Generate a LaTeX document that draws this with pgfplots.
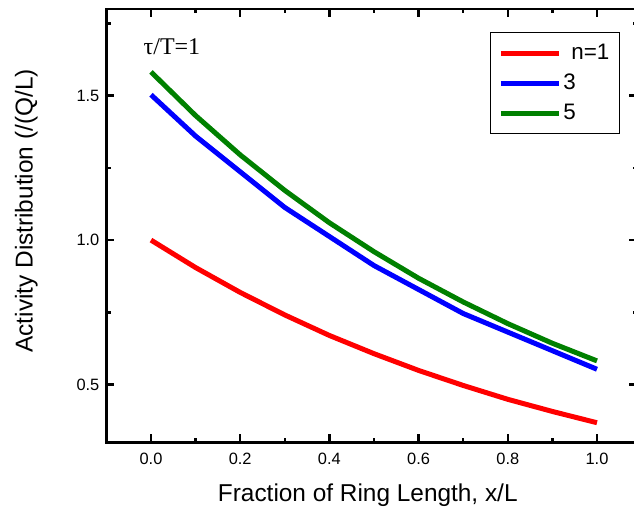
\documentclass[border=0pt]{standalone}
\usepackage{fontspec}
\setmainfont{Liberation Sans}
\newfontfamily\timesf{Liberation Serif}
\usepackage{pgfplots}
\pgfplotsset{compat=1.18}
\begin{document}
\begin{tikzpicture}
\begin{axis}[
  scale only axis,
  width=265.4pt, height=216.75pt,
  xmin=-0.1, xmax=1.09, ymin=0.3, ymax=1.8,
  xtick={0,0.2,0.4,0.6,0.8,1.0},
  xticklabels={0.0,0.2,0.4,0.6,0.8,1.0},
  minor xtick={0.1,0.3,0.5,0.7,0.9},
  ytick={0.5,1.0,1.5},
  yticklabels={0.5,1.0,1.5},
  minor ytick={0.75,1.25,1.75},
  tick align=inside,
  major tick length=4pt, minor tick length=2.2pt,
  every tick/.style={line width=1.2pt, black},
  axis line style={line width=1.4pt},
  /pgf/number format/assume math mode=true,
  tick label style={font=\fontsize{8.2}{9.5}\selectfont},
  xticklabel style={yshift=-2pt},
  xlabel={Fraction of Ring Length, x/L},
  ylabel={Activity Distribution (/(Q/L)},
  every axis x label/.style={at={(axis description cs:0.4925,-0.122)}, anchor=center, font=\fontsize{12.2}{14}\selectfont},
  every axis y label/.style={at={(axis description cs:-0.151,0.534)}, rotate=90, anchor=center, font=\fontsize{12.2}{14}\selectfont},
  legend style={at={(axis cs:0.76,1.72)}, anchor=north west, draw=black, line width=0.5pt,
    font=\fontsize{11.2}{12}\selectfont, inner xsep=4pt, inner ysep=2.75pt,
    nodes={inner xsep=1pt, inner ysep=0pt, minimum height=15pt}},
  legend cell align=left,
  legend image code/.code={\draw[line width=2.5pt] (0pt,0pt) -- (29pt,0pt);},
]
\addplot[red, line width=2.5pt] coordinates {
(0,1.000) (0.1,0.905) (0.2,0.819) (0.3,0.741) (0.4,0.670) (0.5,0.607)
(0.6,0.549) (0.7,0.497) (0.8,0.449) (0.9,0.407) (1.0,0.368)};
\addlegendentry{\hspace{4pt}n=1\hspace{6pt}}
\addplot[blue, line width=2.5pt] coordinates {
(0,1.503) (0.1,1.360) (0.3,1.113) (0.5,0.912) (0.7,0.746) (1.0,0.553)};
\addlegendentry{3}
\addplot[green!50!black, line width=2.5pt] coordinates {
(0,1.582) (0.1,1.431) (0.2,1.295) (0.3,1.172) (0.4,1.060) (0.5,0.960)
(0.6,0.868) (0.7,0.786) (0.8,0.711) (0.9,0.643) (1.0,0.582)};
\addlegendentry{5}
\node[font=\timesf\fontsize{12}{13}\selectfont] at (axis cs:0.047,1.668) {τ/T=1};
\coordinate (bbsw) at (axis cs:-0.3386,0.0675);
\coordinate (bbne) at (axis cs:1.083,1.831);
\end{axis}
\pgfresetboundingbox
\useasboundingbox (bbsw) rectangle (bbne);
\end{tikzpicture}
\end{document}
